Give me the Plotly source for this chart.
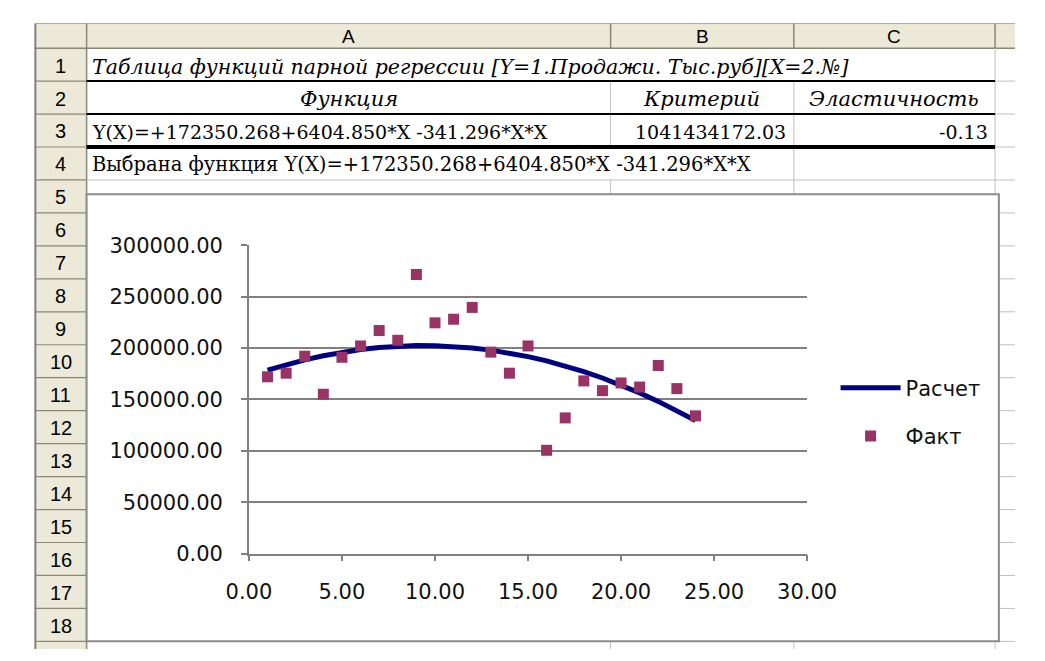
import plotly.graph_objects as go

W, H = 1045, 661

# ---------------- data ----------------
x_vals = list(range(1, 25))
fact = [172000, 175500, 192000, 155000, 191000, 202000, 217000, 207500,
        271500, 224500, 228000, 239500, 196000, 175500, 202000, 100500,
        132000, 168000, 158500, 166000, 162000, 183000, 160500, 134000]
calc = [178413.822, 183794.784, 188493.154, 192508.932, 195842.118, 198492.712,
        200460.714, 201746.124, 202348.942, 202269.168, 201506.802, 200061.844,
        197934.294, 195124.152, 191631.418, 187456.092, 182598.174, 177057.664,
        170834.562, 163928.868, 156340.582, 148069.704, 139116.234, 129480.172]
series_names = ["Расчет", "Факт"]

col_letters = ["A", "B", "C"]
row_labels = [str(i) for i in range(1, 19)]
title_text = "Таблица функций парной регрессии [Y=1.Продажи. Тыс.руб][X=2.№]"
head_texts = ["Функция", "Критерий", "Эластичность"]
func_text = "Y(X)=+172350.268+6404.850*X -341.296*X*X"
crit_text = "1041434172.03"
elast_text = "-0.13"
chosen_text = "Выбрана функция Y(X)=+172350.268+6404.850*X -341.296*X*X"


def px(p):
    return p / W


def py(p):
    return 1 - p / H


BEIGE = "#ECE9D8"
HDR_LINE = "#ACA899"
GRID = "#C0C0C0"

shapes = []
ann = []


def rect(x0, y0, x1, y1, fill=None, line=None, lw=0, layer="below"):
    shapes.append(dict(type="rect", xref="paper", yref="paper",
                       x0=px(x0), x1=px(x1), y0=py(y1), y1=py(y0),
                       fillcolor=fill if fill else "rgba(0,0,0,0)",
                       line=dict(color=line if line else "rgba(0,0,0,0)", width=lw),
                       layer=layer))


def hline(y, x0, x1, color, lw=1):
    shapes.append(dict(type="line", xref="paper", yref="paper",
                       x0=px(x0), x1=px(x1), y0=py(y), y1=py(y),
                       line=dict(color=color, width=lw), layer="below"))


def vline(x, y0, y1, color, lw=1):
    shapes.append(dict(type="line", xref="paper", yref="paper",
                       x0=px(x), x1=px(x), y0=py(y0), y1=py(y1),
                       line=dict(color=color, width=lw), layer="below"))


def text(s, x, y, xanchor="left", size=20, family="DejaVu Serif", italic=False, color="#000"):
    ann.append(dict(text=(f"<i>{s}</i>" if italic else s), x=px(x), y=py(y),
                    xref="paper", yref="paper", xanchor=xanchor, yanchor="middle",
                    showarrow=False,
                    font=dict(family=family, size=size, color=color)))


# ---------------- spreadsheet grid ----------------
ROW0 = 37.5
RH = 34.2
bounds = [ROW0 + i * RH for i in range(20)]
COLX = [67, 619, 812, 1024]

# headers
rect(13, 12, 1045, ROW0, fill=BEIGE)
rect(13, ROW0, 67, H, fill=BEIGE)
hline(12, 13, 1045, HDR_LINE, 1)
hline(ROW0, 13, 1045, "#8A8776", 1.5)
for cx in COLX:
    vline(cx, 12, ROW0, "#8A8776", 1.5)
vline(13, 12, H, "#808080", 2)
vline(67, ROW0, H, "#8A8776", 1.5)
for b in bounds[1:]:
    hline(b, 13, 67, "#8A8776", 1.2)

# cell grid
for i, b in enumerate(bounds[1:], start=1):
    hline(b, 67, 1045, GRID, 1)
vline(1024, ROW0, H, GRID, 1)
vline(619, bounds[1], bounds[3], GRID, 1)
vline(619, bounds[4], H, GRID, 1)
vline(812, bounds[1], H, GRID, 1)
# black borders
hline(bounds[1], 67, 1024, "#000", 2)
hline(bounds[2], 67, 1024, "#000", 2)
hline(bounds[3], 67, 1024, "#000", 4)

# chart area
rect(67, 189, 1028, 653, fill="#FFFFFF", line="#8C8C8C", lw=2)

# header labels
for letter, (a, b) in zip(col_letters, [(67, 619), (619, 812), (812, 1024)]):
    text(letter, (a + b) / 2, 25, xanchor="center", size=19, family="Liberation Sans")
for i, lab in enumerate(row_labels):
    text(lab, 40, bounds[i] + RH / 2 + 1, xanchor="center", size=20, family="Liberation Sans")

# cell texts
text(title_text, 71, bounds[0] + RH / 2 + 2, size=20.5, italic=True)
text(head_texts[0], 343, bounds[1] + RH / 2 + 1, xanchor="center", size=21, italic=True)
text(head_texts[1], 715, bounds[1] + RH / 2 + 1, xanchor="center", size=21, italic=True)
text(head_texts[2], 918, bounds[1] + RH / 2 + 1, xanchor="center", size=21, italic=True)
text(func_text, 71, bounds[2] + RH / 2 + 2, size=19)
text(crit_text, 806, bounds[2] + RH / 2 + 2, xanchor="right", size=19)
text(elast_text, 1019, bounds[2] + RH / 2 + 2, xanchor="right", size=19)
text(chosen_text, 71, bounds[3] + RH / 2 + 1, size=19.5)

# ---------------- chart ----------------
fig = go.Figure()
fig.add_trace(go.Scatter(x=x_vals, y=calc, mode="lines", name=series_names[0],
                         legendgroup="a",
                         line=dict(color="#000080", width=5)))
fig.add_trace(go.Scatter(x=x_vals, y=fact, mode="markers", name=series_names[1],
                         legendgroup="b",
                         marker=dict(symbol="square", size=11, color="#993366",
                                     line=dict(width=0))))

AX_L, AX_R, AX_T, AX_B = 238, 826, 242, 562
tickfont = dict(family="DejaVu Sans", size=21, color="#111")

fig.update_layout(
    width=W, height=H,
    margin=dict(l=0, r=0, t=0, b=0),
    paper_bgcolor="#FFFFFF",
    plot_bgcolor="rgba(0,0,0,0)",
    shapes=shapes,
    annotations=ann,
    showlegend=True,
    legend=dict(x=px(856), y=py(369), xanchor="left", yanchor="top",
                font=dict(family="DejaVu Sans", size=21, color="#111"),
                bgcolor="rgba(0,0,0,0)", itemwidth=60, tracegroupgap=18),
    xaxis=dict(domain=[px(AX_L), px(AX_R)], range=[0, 30], dtick=5, tick0=0,
               tickformat=".2f", showgrid=False, zeroline=False,
               showline=True, linecolor="#808080", linewidth=1.5,
               ticks="outside", ticklen=6, tickcolor="#808080", tickwidth=1.5,
               tickfont=tickfont, ticklabelstandoff=12, fixedrange=True),
    yaxis=dict(domain=[py(AX_B), py(AX_T)], range=[0, 300000], dtick=50000, tick0=0,
               tickformat=".2f", showgrid=True, gridcolor="#808080", gridwidth=1.5,
               zeroline=False, showline=True, linecolor="#808080", linewidth=1.5,
               ticks="outside", ticklen=6, tickcolor="#808080", tickwidth=1.5,
               tickfont=tickfont, ticklabelstandoff=14, fixedrange=True),
)

fig.write_html("out.html")
